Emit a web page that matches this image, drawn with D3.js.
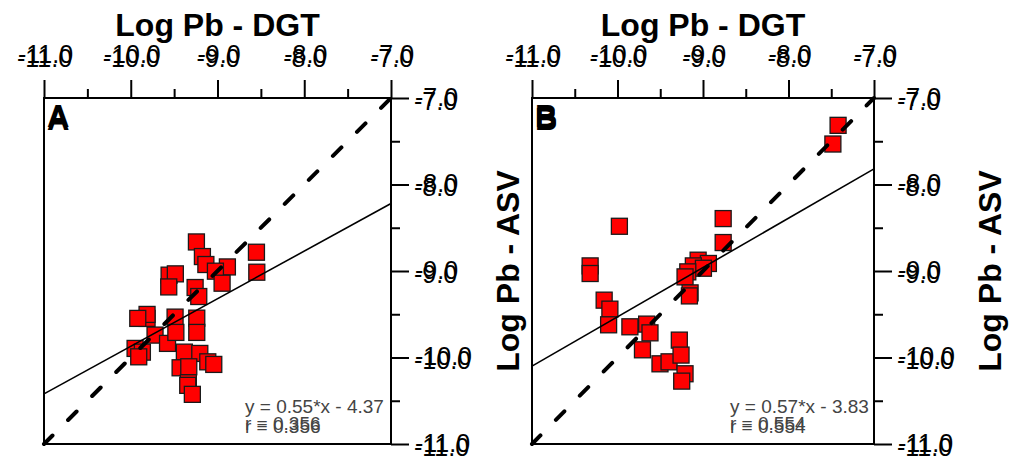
<!DOCTYPE html>
<html>
<head>
<meta charset="utf-8">
<script src="https://cdn.jsdelivr.net/npm/d3@7"></script>
<style>
  body { margin: 0; background: #fff; }
  svg { display: block; font-family: "Liberation Sans", Arial, sans-serif; }
</style>
</head>
<body>
<svg id="chart" width="1020" height="462"></svg>
<script>
// axis values
const majorTicks = [-11, -10, -9, -8, -7];
const minorTicks = [-10.5, -9.5, -8.5, -7.5];
const tickLabels = ["-11.0", "-10.0", "-9.0", "-8.0", "-7.0"];

// panel A : log Pb DGT vs ASV
const dgtA = [-9.243, -9.174, -9.134, -8.886, -9.024, -8.947, -8.551, -8.547, -9.558, -9.486,
  -9.562, -9.258, -9.216, -9.812, -9.812, -9.919, -9.489, -9.239, -9.239, -9.720,
  -9.576, -9.480, -9.950, -9.866, -9.908, -9.382, -9.204, -9.431, -9.331, -9.112,
  -9.043, -9.336, -9.343, -9.290];
const asvA = [-8.664, -8.833, -8.925, -8.953, -9.002, -9.141, -8.783, -9.014, -9.048, -9.033,
  -9.184, -9.191, -9.295, -9.548, -9.502, -9.548, -9.533, -9.545, -9.710, -9.741,
  -9.837, -9.710, -9.895, -9.938, -9.992, -9.938, -9.953, -10.119, -10.107, -10.050,
  -10.080, -10.292, -10.322, -10.426];

// panel B
const dgtB = [-7.420, -7.481, -9.978, -10.320, -10.320, -10.156, -10.089, -8.764, -8.764, -9.057,
  -8.937, -9.113, -8.995, -9.178, -9.210, -9.151, -9.159, -10.104, -9.855, -9.659,
  -9.620, -9.708, -9.503, -9.397, -9.277, -9.257, -9.210, -9.249];
const asvB = [-7.316, -7.532, -8.483, -8.941, -9.029, -9.337, -9.441, -8.394, -8.671, -8.875,
  -8.913, -8.941, -8.968, -9.010, -9.068, -9.253, -9.288, -9.622, -9.645, -9.614,
  -9.715, -9.911, -10.073, -10.050, -9.799, -9.972, -10.188, -10.273];

const slopes = [0.55, 0.57];
const intercepts = [-4.37, -3.83];
const rValues = ["0.356", "0.554"];
const letters = ["A", "B"];
const xTitle = "Log Pb - DGT";
const yTitle = "Log Pb - ASV";

const svg = d3.select("#chart");

const panels = [
  { left: 44, top: 98, w: 347, h: 346, xs: dgtA, ys: asvA },
  { left: 532, top: 98, w: 342, h: 346, xs: dgtB, ys: asvB }
];

// the source graphic has every label printed twice, slightly shifted
const ghost = [[0, 0], [1, -4]];

panels.forEach((p, i) => {
  const g = svg.append("g").attr("transform", `translate(${p.left},${p.top})`);
  const x = d3.scaleLinear().domain([-11, -7]).range([0, p.w]);
  const y = d3.scaleLinear().domain([-11, -7]).range([p.h, 0]);

  // top axis - minor then major
  g.append("g").call(d3.axisTop(x).tickValues(minorTicks).tickSize(9).tickSizeOuter(0).tickFormat(""));
  const topAx = g.append("g").call(d3.axisTop(x).tickValues(majorTicks).tickSize(18).tickSizeOuter(0).tickFormat(""));
  // right axis
  const rg = g.append("g").attr("transform", `translate(${p.w},0)`);
  rg.call(d3.axisRight(y).tickValues(minorTicks).tickSize(9).tickSizeOuter(0).tickFormat(""));
  const rightAx = rg.append("g").call(d3.axisRight(y).tickValues(majorTicks).tickSize(18).tickSizeOuter(0).tickFormat(""));
  g.selectAll(".domain").remove();
  g.selectAll(".tick line").attr("stroke", "#000").attr("stroke-width", 2);

  topAx.selectAll(".tick").each(function (d, k) {
    const t = d3.select(this);
    ghost.forEach(o => {
      t.append("text").attr("x", o[0]).attr("y", -31 + o[1])
        .attr("text-anchor", "middle").attr("fill", "#000")
        .attr("font-size", 25).text(tickLabels[k]);
    });
  });
  rightAx.selectAll(".tick").each(function (d, k) {
    const t = d3.select(this);
    ghost.forEach(o => {
      t.append("text").attr("x", 23 + o[0]).attr("y", 11 + o[1])
        .attr("text-anchor", "start").attr("fill", "#000")
        .attr("font-size", 25).text(tickLabels[k]);
    });
  });

  // frame
  g.append("rect").attr("width", p.w).attr("height", p.h)
    .attr("fill", "none").attr("stroke", "#000").attr("stroke-width", 2);

  // points
  const pts = p.xs.map((v, k) => [v, p.ys[k]]);
  const s = 16;
  g.append("g").selectAll("rect").data(pts).join("rect")
    .attr("x", d => x(d[0]) - s / 2).attr("y", d => y(d[1]) - s / 2)
    .attr("width", s).attr("height", s)
    .attr("fill", "#ff0000").attr("stroke", "#1a1a1a").attr("stroke-width", 1.3);

  // 1:1 line
  g.append("line")
    .attr("x1", x(-11)).attr("y1", y(-11)).attr("x2", x(-7)).attr("y2", y(-7))
    .attr("stroke", "#000").attr("stroke-width", 4)
    .attr("stroke-linecap", "round").attr("stroke-dasharray", "12,22");

  // regression line
  g.append("line")
    .attr("x1", x(-11)).attr("y1", y(slopes[i] * -11 + intercepts[i]))
    .attr("x2", x(-7)).attr("y2", y(slopes[i] * -7 + intercepts[i]))
    .attr("stroke", "#000").attr("stroke-width", 1.6);

  // equation
  const eq = g.append("g").attr("fill", "#444").attr("font-size", 19);
  const ex = i === 0 ? 201 : 198;
  eq.append("text").attr("x", ex).attr("y", 315)
    .text(`y = ${slopes[i].toFixed(2)}*x - ${Math.abs(intercepts[i]).toFixed(2)}`);
  [[0, 0], [0, -3]].forEach(o => {
    eq.append("text").attr("x", ex + o[0]).attr("y", 335 + o[1]).text(`r = ${rValues[i]}`);
  });

  // panel letter
  [[0, 0], [0, -3]].forEach(o => {
    g.append("text").attr("x", 3 + o[0]).attr("y", 32 + o[1])
      .attr("font-size", 31).attr("font-weight", "bold").text(letters[i]);
  });

  // axis titles
  svg.append("text").attr("x", p.left + p.w / 2).attr("y", 36)
    .attr("text-anchor", "middle").attr("font-size", 32).attr("font-weight", "bold")
    .text(xTitle);
  const yx = i === 0 ? 519 : 1001;
  svg.append("text")
    .attr("transform", `translate(${yx},${p.top + p.h / 2}) rotate(-90)`)
    .attr("text-anchor", "middle").attr("font-size", 32).attr("font-weight", "bold")
    .text(yTitle);
});
</script>
</body>
</html>
